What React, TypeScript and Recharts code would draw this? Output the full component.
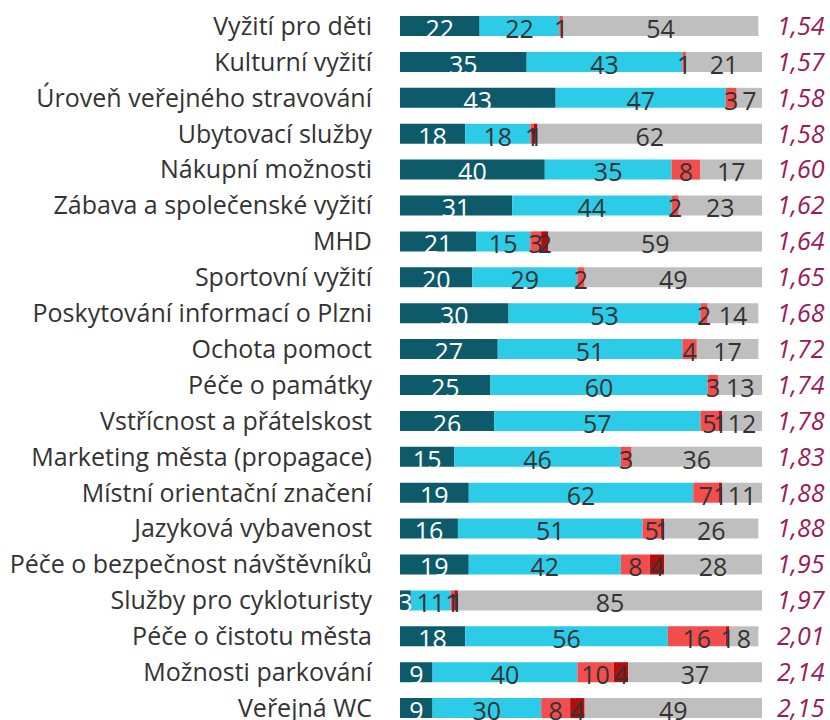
import { Bar, BarChart, LabelList, XAxis, YAxis } from "recharts";

const CATEGORIES = [
  "Vyžití pro děti",
  "Kulturní vyžití",
  "Úroveň veřejného stravování",
  "Ubytovací služby",
  "Nákupní možnosti",
  "Zábava a společenské vyžití",
  "MHD",
  "Sportovní vyžití",
  "Poskytování informací o Plzni",
  "Ochota pomoct",
  "Péče o památky",
  "Vstřícnost a přátelskost",
  "Marketing města (propagace)",
  "Místní orientační značení",
  "Jazyková vybavenost",
  "Péče o bezpečnost návštěvníků",
  "Služby pro cykloturisty",
  "Péče o čistotu města",
  "Možnosti parkování",
  "Veřejná WC",
];

const VERY_GOOD = [22, 35, 43, 18, 40, 31, 21, 20, 30, 27, 25, 26, 15, 19, 16, 19, 3, 18, 9, 9];
const GOOD = [22, 43, 47, 18, 35, 44, 15, 29, 53, 51, 60, 57, 46, 62, 51, 42, 11, 56, 40, 30];
const BAD = [1, 1, 3, 1, 8, 2, 3, 2, 2, 4, 3, 5, 3, 7, 5, 8, 1, 16, 10, 8];
const VERY_BAD = [0, 0, 0, 1, 0, 0, 2, 0, 0, 0, 0, 1, 0, 1, 1, 4, 1, 1, 4, 4];
const DONT_KNOW = [54, 21, 7, 62, 17, 23, 59, 49, 14, 17, 13, 12, 36, 11, 26, 28, 85, 8, 37, 49];
const AVERAGE = [
  "1,54", "1,57", "1,58", "1,58", "1,60", "1,62", "1,64", "1,65", "1,68", "1,72",
  "1,74", "1,78", "1,83", "1,88", "1,88", "1,95", "1,97", "2,01", "2,14", "2,15",
];

const rows = CATEGORIES.map((name, i) => ({
  name,
  a: VERY_GOOD[i],
  b: GOOD[i],
  c: BAD[i],
  d: VERY_BAD[i],
  e: DONT_KNOW[i],
}));

const SERIES = [
  { key: "a", fill: "#0d5b6a", text: "#ffffff" },
  { key: "b", fill: "#2ccbe7", text: "#333333" },
  { key: "c", fill: "#f44d4d", text: "#333333" },
  { key: "d", fill: "#b10d0d", text: "#333333" },
  { key: "e", fill: "#bfbfbf", text: "#333333" },
];

const FONT = "'Open Sans', 'Noto Sans', sans-serif";

export default function App() {
  return (
    <div style={{ position: "fixed", left: 0, top: 0, width: 830, height: 720, overflow: "hidden", background: "#fff" }}>
      <BarChart
        width={830}
        height={726}
        data={rows}
        layout="vertical"
        margin={{ top: 8, right: 0, bottom: 0, left: 0 }}
        barSize={20}
        style={{ fontFamily: FONT }}
      >
        <XAxis type="number" domain={[0, 100]} allowDataOverflow hide />
        <YAxis
          yAxisId="left"
          type="category"
          dataKey="name"
          width={400}
          axisLine={false}
          tickLine={false}
          tickSize={0}
          tickMargin={28}
          interval={0}
          tick={{ fontSize: 25, fill: "#333333" }}
        />
        <YAxis
          yAxisId="right"
          orientation="right"
          type="category"
          dataKey="name"
          width={68}
          axisLine={false}
          tickLine={false}
          tickSize={0}
          tickMargin={15}
          interval={0}
          tickFormatter={(_v: string, i: number) => AVERAGE[i]}
          tick={{ fontSize: 25, fill: "#9b1a5a", fontStyle: "italic", textAnchor: "start" }}
        />
        {SERIES.map((s) => (
          <Bar
            key={s.key}
            yAxisId="left"
            dataKey={s.key}
            stackId="x"
            fill={s.fill}
            isAnimationActive={false}
          >
            <LabelList
              dataKey={s.key}
              position="center"
              fill={s.text}
              fontSize={25}
              dy={3}
              formatter={(v: number) => (v ? v : "")}
            />
          </Bar>
        ))}
      </BarChart>
    </div>
  );
}
